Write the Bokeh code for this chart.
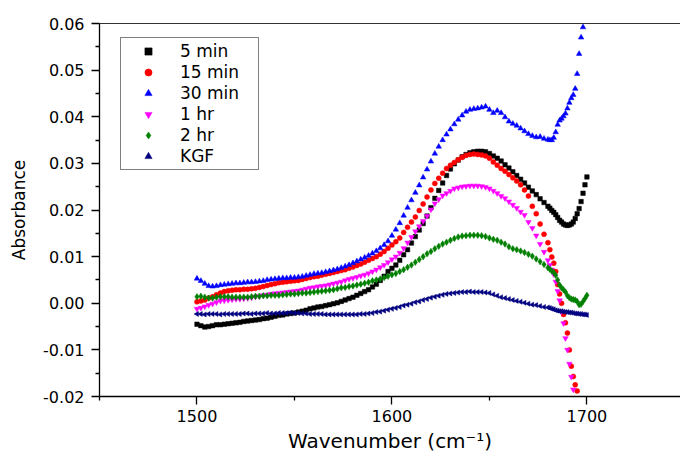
import math
from bokeh.plotting import figure
from bokeh.models import FixedTicker, NumeralTickFormatter, LinearAxis, Legend, LegendItem
from bokeh.embed import file_html
from bokeh.resources import INLINE

nan = float("nan")

# Wavenumber grid (cm-1): 2 cm-1 steps, then 1 cm-1 steps in the steep tail
wavenumber = list(range(1500, 1680, 2)) + list(range(1680, 1701))

abs_5min = [
    -0.0045, -0.0048, -0.0051, -0.0050, -0.0048, -0.0046, -0.0046, -0.0045, -0.0044, -0.0043,
    -0.0042, -0.0041, -0.0039, -0.0038, -0.0037, -0.0036, -0.0035, -0.0033, -0.0032, -0.0030,
    -0.0028, -0.0026, -0.0025, -0.0023, -0.0022, -0.0021, -0.0019, -0.0017, -0.0015, -0.0012,
    -0.0010, -0.0008, -0.0007, -0.0005, -0.0003, -0.0001, 0.0001, 0.0004, 0.0007, 0.0010,
    0.0013, 0.0017, 0.0021, 0.0025, 0.0029, 0.0035, 0.0041, 0.0049, 0.0058, 0.0068,
    0.0075, 0.0082, 0.0092, 0.0104, 0.0115, 0.0129, 0.0143, 0.0157, 0.0171, 0.0187,
    0.0205, 0.0225, 0.0242, 0.0258, 0.0274, 0.0288, 0.0299, 0.0307, 0.0314, 0.0319,
    0.0323, 0.0325, 0.0326, 0.0326, 0.0325, 0.0321, 0.0316, 0.0311, 0.0305, 0.0297,
    0.0290, 0.0282, 0.0274, 0.0266, 0.0258, 0.0249, 0.0241, 0.0233, 0.0224, 0.0216,
    0.0208, 0.0204, 0.0199, 0.0195, 0.0190, 0.0184, 0.0178, 0.0174, 0.0170, 0.0168,
    0.0167, 0.0168, 0.0170, 0.0174, 0.0182, 0.0192, 0.0203, 0.0218, 0.0236, 0.0254,
    0.0271,
]

abs_15min = [
    0.0003, 0.0005, 0.0007, 0.0011, 0.0014, 0.0018, 0.0022, 0.0025, 0.0027, 0.0028,
    0.0029, 0.0029, 0.0030, 0.0030, 0.0031, 0.0032, 0.0034, 0.0036, 0.0038, 0.0040,
    0.0042, 0.0044, 0.0045, 0.0046, 0.0047, 0.0048, 0.0049, 0.0051, 0.0053, 0.0055,
    0.0057, 0.0058, 0.0060, 0.0062, 0.0064, 0.0066, 0.0068, 0.0070, 0.0072, 0.0075,
    0.0078, 0.0081, 0.0084, 0.0088, 0.0092, 0.0096, 0.0100, 0.0105, 0.0111, 0.0118,
    0.0125, 0.0132, 0.0140, 0.0152, 0.0163, 0.0174, 0.0185, 0.0199, 0.0213, 0.0228,
    0.0243, 0.0257, 0.0268, 0.0279, 0.0289, 0.0296, 0.0302, 0.0308, 0.0313, 0.0317,
    0.0319, 0.0320, 0.0319, 0.0318, 0.0316, 0.0311, 0.0303, 0.0296, 0.0289, 0.0283,
    0.0276, 0.0269, 0.0262, 0.0254, 0.0243, 0.0230, 0.0208, 0.0192, 0.0170, 0.0148,
    0.0130, 0.0115, 0.0099, 0.0086, 0.0068, 0.0040, 0.0020, 0.0000, -0.0024, -0.0042,
    -0.0064, -0.0100, -0.0135, -0.0157, -0.0175, -0.0188, nan, nan, nan, nan,
    nan,
]

abs_30min = [
    0.0053, 0.0048, 0.0042, 0.0037, 0.0036, 0.0037, 0.0039, 0.0040, 0.0041, 0.0042,
    0.0043, 0.0043, 0.0044, 0.0045, 0.0045, 0.0046, 0.0047, 0.0048, 0.0050, 0.0051,
    0.0052, 0.0053, 0.0054, 0.0054, 0.0055, 0.0055, 0.0056, 0.0057, 0.0059, 0.0061,
    0.0063, 0.0064, 0.0065, 0.0067, 0.0069, 0.0071, 0.0073, 0.0076, 0.0079, 0.0082,
    0.0086, 0.0090, 0.0094, 0.0098, 0.0102, 0.0107, 0.0112, 0.0118, 0.0125, 0.0133,
    0.0145, 0.0158, 0.0172, 0.0188, 0.0205, 0.0221, 0.0237, 0.0253, 0.0270, 0.0287,
    0.0304, 0.0321, 0.0336, 0.0350, 0.0362, 0.0373, 0.0384, 0.0394, 0.0403, 0.0411,
    0.0415, 0.0417, 0.0418, 0.0420, 0.0422, 0.0415, 0.0408, 0.0413, 0.0408, 0.0399,
    0.0390, 0.0385, 0.0381, 0.0375, 0.0369, 0.0363, 0.0359, 0.0356, 0.0357, 0.0353,
    0.0351, 0.0350, 0.0350, 0.0355, 0.0367, 0.0383, 0.0392, 0.0396, 0.0401, 0.0407,
    0.0418, 0.0430, 0.0440, 0.0447, 0.0460, 0.0492, 0.0535, 0.0570, 0.0592, nan,
    nan,
]

abs_1hr = [
    -0.0012, -0.0010, -0.0007, -0.0004, -0.0001, 0.0002, 0.0005, 0.0006, 0.0007, 0.0008,
    0.0009, 0.0009, 0.0010, 0.0011, 0.0012, 0.0014, 0.0015, 0.0017, 0.0018, 0.0020,
    0.0021, 0.0022, 0.0023, 0.0024, 0.0025, 0.0026, 0.0027, 0.0029, 0.0031, 0.0033,
    0.0034, 0.0036, 0.0037, 0.0038, 0.0040, 0.0042, 0.0044, 0.0046, 0.0049, 0.0052,
    0.0054, 0.0056, 0.0059, 0.0061, 0.0064, 0.0068, 0.0072, 0.0077, 0.0082, 0.0088,
    0.0094, 0.0100, 0.0108, 0.0118, 0.0130, 0.0142, 0.0154, 0.0165, 0.0176, 0.0187,
    0.0201, 0.0214, 0.0223, 0.0231, 0.0236, 0.0241, 0.0246, 0.0248, 0.0250, 0.0251,
    0.0252, 0.0252, 0.0252, 0.0251, 0.0249, 0.0246, 0.0241, 0.0236, 0.0230, 0.0225,
    0.0218, 0.0211, 0.0204, 0.0196, 0.0189, 0.0174, 0.0161, 0.0145, 0.0127, 0.0110,
    0.0092, 0.0082, 0.0072, 0.0062, 0.0046, 0.0026, 0.0006, -0.0018, -0.0043, -0.0075,
    -0.0100, -0.0130, -0.0158, -0.0185, nan, nan, nan, nan, nan, nan,
    nan,
]

abs_2hr = [
    0.0014, 0.0015, 0.0013, 0.0011, 0.0011, 0.0013, 0.0014, 0.0014, 0.0014, 0.0013,
    0.0013, 0.0013, 0.0013, 0.0013, 0.0014, 0.0015, 0.0015, 0.0016, 0.0016, 0.0017,
    0.0017, 0.0017, 0.0018, 0.0019, 0.0020, 0.0020, 0.0021, 0.0022, 0.0022, 0.0023,
    0.0024, 0.0025, 0.0026, 0.0027, 0.0028, 0.0029, 0.0031, 0.0033, 0.0034, 0.0036,
    0.0037, 0.0039, 0.0041, 0.0043, 0.0045, 0.0048, 0.0050, 0.0052, 0.0055, 0.0058,
    0.0061, 0.0064, 0.0068, 0.0072, 0.0077, 0.0082, 0.0088, 0.0094, 0.0100, 0.0106,
    0.0111, 0.0117, 0.0122, 0.0127, 0.0131, 0.0135, 0.0139, 0.0142, 0.0144, 0.0145,
    0.0146, 0.0146, 0.0146, 0.0145, 0.0143, 0.0140, 0.0137, 0.0135, 0.0131, 0.0127,
    0.0121, 0.0117, 0.0115, 0.0112, 0.0109, 0.0105, 0.0101, 0.0095, 0.0089, 0.0083,
    0.0076, 0.0073, 0.0069, 0.0066, 0.0060, 0.0050, 0.0039, 0.0033, 0.0029, 0.0024,
    0.0016, 0.0012, 0.0009, 0.0008, 0.0007, 0.0004, -0.0003, -0.0002, 0.0004, 0.0010,
    0.0017,
]

abs_kgf = [
    -0.0023, -0.0023, -0.0024, -0.0023, -0.0023, -0.0023, -0.0024, -0.0023, -0.0023, -0.0023,
    -0.0023, -0.0023, -0.0022, -0.0022, -0.0023, -0.0022, -0.0022, -0.0022, -0.0021, -0.0022,
    -0.0022, -0.0021, -0.0021, -0.0021, -0.0020, -0.0021, -0.0021, -0.0022, -0.0022, -0.0023,
    -0.0023, -0.0023, -0.0023, -0.0024, -0.0024, -0.0024, -0.0024, -0.0024, -0.0024, -0.0024,
    -0.0024, -0.0024, -0.0023, -0.0023, -0.0022, -0.0021, -0.0019, -0.0018, -0.0016, -0.0014,
    -0.0012, -0.0010, -0.0008, -0.0005, -0.0003, -0.0001, 0.0002, 0.0004, 0.0007, 0.0009,
    0.0012, 0.0014, 0.0016, 0.0018, 0.0020, 0.0021, 0.0022, 0.0023, 0.0024, 0.0024,
    0.0025, 0.0024, 0.0024, 0.0024, 0.0023, 0.0022, 0.0019, 0.0016, 0.0013, 0.0011,
    0.0009, 0.0007, 0.0005, 0.0003, 0.0001, -0.0001, -0.0003, -0.0004, -0.0006, -0.0008,
    -0.0009, -0.0010, -0.0012, -0.0013, -0.0015, -0.0016, -0.0017, -0.0017, -0.0018, -0.0019,
    -0.0019, -0.0020, -0.0020, -0.0021, -0.0022, -0.0022, -0.0023, -0.0023, -0.0024, -0.0024,
    -0.0025,
]

series_labels = ["5 min", "15 min", "30 min", "1 hr", "2 hr", "KGF"]
series_values = [abs_5min, abs_15min, abs_30min, abs_1hr, abs_2hr, abs_kgf]

x_ticks = [1500, 1600, 1700]
x_minor_ticks = [1450, 1550, 1650, 1750]
y_ticks = [-0.02, -0.01, 0.0, 0.01, 0.02, 0.03, 0.04, 0.05, 0.06]
y_minor_ticks = [-0.015, -0.005, 0.005, 0.015, 0.025, 0.035, 0.045, 0.055]

# marker, colour, plot size, legend size, angle
styles = [
    ("square", "#000000", 4.5, 3.5, 0.0),
    ("circle", "#FF0000", 5, 4, 0.0),
    ("triangle", "#0000FF", 5.5, 5, 0.0),
    ("inverted_triangle", "#FF00FF", 5.5, 5, 0.0),
    ("diamond", "#008000", 6.5, 5.5, 0.0),
    ("triangle", "#000080", 5, 4.5, math.pi / 2),
]

FONT = "DejaVu Sans"

p = figure(
    width=680, height=458,
    x_range=(1450, 1748), y_range=(-0.02, 0.06),
    output_backend="svg", toolbar_location=None,
    min_border_left=99, min_border_right=0, min_border_top=23, min_border_bottom=62,
    background_fill_color="white", border_fill_color="white",
)
p.outline_line_color = None
p.xgrid.visible = False
p.ygrid.visible = False

legend_items = []
for label, vals, (marker, color, size, lsize, ang) in zip(series_labels, series_values, styles):
    p.scatter(x=wavenumber, y=vals, marker=marker, size=size, angle=ang,
              fill_color=color, line_color=color, line_width=0.5)
    # hidden copy with a smaller marker, used only for the legend key
    key = p.scatter(x=wavenumber, y=vals, marker=marker, size=lsize, angle=ang,
                    fill_color=color, line_color=color, line_width=0.5, visible=False)
    legend_items.append(LegendItem(label=label, renderers=[key]))

for ax in (p.xaxis[0], p.yaxis[0]):
    ax.axis_line_color = "black"
    ax.axis_line_width = 1.3
    ax.major_tick_line_color = "black"
    ax.minor_tick_line_color = "black"
    ax.major_tick_line_width = 1.3
    ax.minor_tick_line_width = 1.3
    ax.major_tick_in = 0
    ax.minor_tick_in = 0
    ax.major_tick_out = 8
    ax.minor_tick_out = 4
    ax.major_label_text_font = FONT
    ax.major_label_text_font_size = "16px"
    ax.major_label_text_color = "black"
    ax.axis_label_text_font = FONT
    ax.axis_label_text_font_style = "normal"
    ax.axis_label_text_color = "black"

p.xaxis.ticker = FixedTicker(ticks=x_ticks, minor_ticks=x_minor_ticks)
p.yaxis.ticker = FixedTicker(ticks=y_ticks, minor_ticks=y_minor_ticks)
p.yaxis.formatter = NumeralTickFormatter(format="0.00")
p.xaxis.major_label_standoff = 5
p.yaxis.major_label_standoff = 7
p.xaxis.axis_label = "Wavenumber (cm\u207b\u00b9)"
p.xaxis.axis_label_text_font_size = "20px"
p.xaxis.axis_label_standoff = 4
p.yaxis.axis_label = "Absorbance"
p.yaxis.axis_label_text_font_size = "17px"
p.yaxis.axis_label_standoff = 11

top = LinearAxis(ticker=FixedTicker(ticks=[]), axis_line_color="#333333", axis_line_width=1.2,
                 major_tick_out=0, major_tick_in=0, minor_tick_out=0, minor_tick_in=0,
                 major_label_text_font_size="0px", major_label_standoff=0)
p.add_layout(top, "above")

lg = Legend(items=legend_items, location=(21, 226))
lg.border_line_color = "black"
lg.border_line_width = 1
lg.background_fill_color = "white"
lg.background_fill_alpha = 1
lg.inactive_fill_alpha = 0
lg.label_text_font = FONT
lg.label_text_font_size = "17px"
lg.label_text_color = "black"
lg.padding = 3
lg.spacing = 1
lg.margin = 0
lg.glyph_height = 18
lg.label_height = 18
lg.glyph_width = 48
lg.label_standoff = 8
lg.label_width = 75
lg.click_policy = "none"
p.add_layout(lg, "center")

open("out.html", "w").write(file_html(p, INLINE))
